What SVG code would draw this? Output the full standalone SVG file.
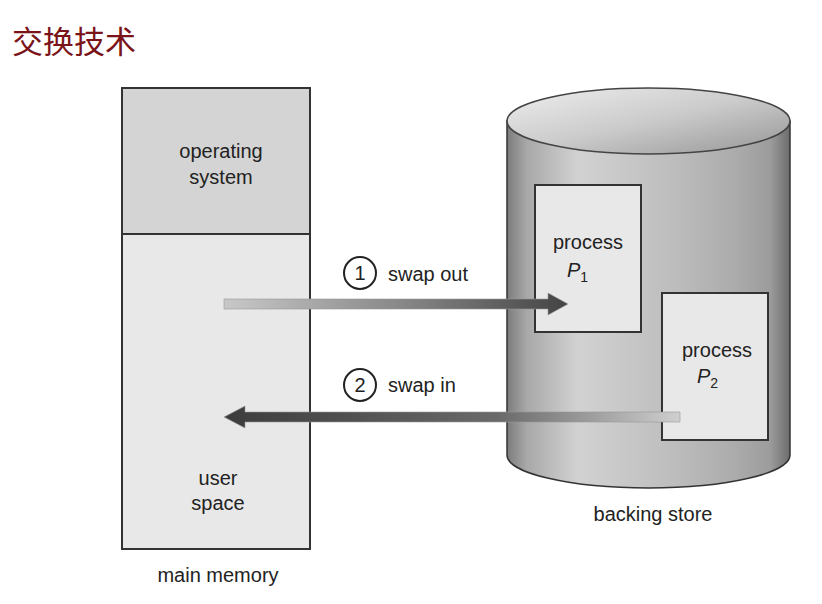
<svg xmlns="http://www.w3.org/2000/svg" width="822" height="604" viewBox="0 0 822 604">
<style>
.t{font-family:"Liberation Sans",Arial,sans-serif;font-size:20px;fill:#222;text-anchor:middle}
.l{font-family:"Liberation Sans",Arial,sans-serif;font-size:20px;fill:#222}
.box{stroke:#333;stroke-width:2}
.num{fill:#fff;stroke:#222;stroke-width:2}
</style>
<defs>
<linearGradient id="body" x1="0" y1="0" x2="1" y2="0">
<stop offset="0" stop-color="#7c7c7c"/>
<stop offset="0.07" stop-color="#a8a8a8"/>
<stop offset="0.25" stop-color="#d2d2d2"/>
<stop offset="0.45" stop-color="#c6c6c6"/>
<stop offset="0.6" stop-color="#bcbcbc"/>
<stop offset="0.8" stop-color="#acacac"/>
<stop offset="0.93" stop-color="#9c9c9c"/>
<stop offset="1" stop-color="#6c6c6c"/>
</linearGradient>
<linearGradient id="top" x1="0" y1="0" x2="1" y2="1">
<stop offset="0" stop-color="#eeeeee"/>
<stop offset="0.5" stop-color="#cbcbcb"/>
<stop offset="1" stop-color="#959595"/>
</linearGradient>
<linearGradient id="out" x1="224" y1="0" x2="567" y2="0" gradientUnits="userSpaceOnUse">
<stop offset="0" stop-color="#c8c8c8"/>
<stop offset="0.5" stop-color="#8a8a8a"/>
<stop offset="1" stop-color="#444"/>
</linearGradient>
<linearGradient id="in" x1="680" y1="0" x2="225" y2="0" gradientUnits="userSpaceOnUse">
<stop offset="0" stop-color="#cfcfcf"/>
<stop offset="0.4" stop-color="#6a6a6a"/>
<stop offset="1" stop-color="#3c3c3c"/>
</linearGradient>
</defs>
<rect width="822" height="604" fill="#fff"/>
<text x="12" y="53" font-family="Noto Sans CJK SC, sans-serif" font-size="31" fill="#7a1418">交换技术</text>

<g id="main-memory">
<rect class="box" x="122" y="88" width="188" height="146" fill="#d4d4d4"/>
<rect class="box" x="122" y="234" width="188" height="315" fill="#e8e8e8"/>
<text class="t" x="221" y="158">operating</text>
<text class="t" x="221" y="184">system</text>
<text class="t" x="218" y="485">user</text>
<text class="t" x="218" y="510">space</text>
<text class="t" x="218" y="582">main memory</text>
</g>

<g id="backing-store">
<path d="M507,121 L507,455 A141.5,33 0 0 0 790,455 L790,121 Z" fill="url(#body)" stroke="#333" stroke-width="1.5"/>
<ellipse cx="648.5" cy="121" rx="141.5" ry="33" fill="url(#top)" stroke="#444" stroke-width="1.5"/>
<text class="t" x="653" y="521">backing store</text>
</g>

<g id="process-p1">
<rect class="box" x="535" y="185" width="106" height="147" fill="#e8e8e8"/>
<text class="t" x="588" y="249">process</text>
<text class="l" x="567" y="277" font-style="italic">P<tspan font-size="14" dy="5" font-style="normal">1</tspan></text>
</g>

<g id="process-p2">
<rect class="box" x="662" y="293" width="106" height="147" fill="#e8e8e8"/>
<text class="t" x="717" y="357">process</text>
<text class="l" x="697" y="383" font-style="italic">P<tspan font-size="14" dy="5" font-style="normal">2</tspan></text>
</g>

<g id="connectors">
<path d="M224,299 L548,299 L548,293 L568,304 L548,315 L548,309 L224,309 Z" fill="url(#out)" stroke="#999" stroke-width="0.6"/>
<path d="M680,412 L245,412 L245,406 L224,417 L245,428 L245,422 L680,422 Z" fill="url(#in)" stroke="#999" stroke-width="0.6"/>
<circle class="num" cx="360" cy="273" r="16"/>
<text class="t" x="360" y="280">1</text>
<text class="l" x="388" y="281">swap out</text>
<circle class="num" cx="360" cy="385" r="16"/>
<text class="t" x="360" y="392">2</text>
<text class="l" x="388" y="392">swap in</text>
</g>
</svg>
